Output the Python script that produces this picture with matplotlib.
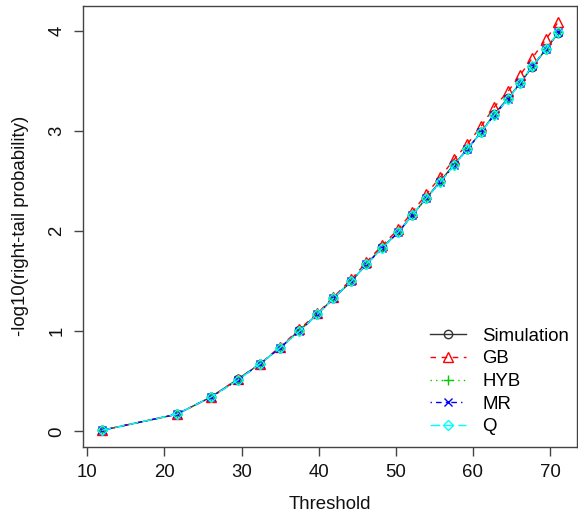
import matplotlib
matplotlib.use("Agg")
import matplotlib.pyplot as plt

plt.rcParams['font.family'] = ['Liberation Sans', 'DejaVu Sans']

# thresholds and -log10(right-tail probability)
threshold = [11.85, 21.57, 25.98, 29.48, 32.33, 34.92, 37.51, 39.84, 41.92,
             44.25, 46.19, 48.26, 50.34, 52.15, 53.96, 55.78, 57.59, 59.28,
             61.09, 62.77, 64.59, 66.14, 67.70, 69.51, 71.07]
simulation = [0.01, 0.17, 0.34, 0.52, 0.67, 0.83, 1.01, 1.17, 1.33, 1.50,
              1.67, 1.84, 1.99, 2.16, 2.33, 2.50, 2.67, 2.82, 2.99, 3.17,
              3.33, 3.48, 3.64, 3.82, 3.98]
gb = [0.01, 0.17, 0.34, 0.52, 0.67, 0.84, 1.02, 1.18, 1.34, 1.52,
      1.69, 1.86, 2.02, 2.19, 2.37, 2.54, 2.72, 2.87, 3.05, 3.24,
      3.40, 3.56, 3.73, 3.92, 4.09]
hyb = [0.01, 0.17, 0.34, 0.51, 0.67, 0.83, 1.00, 1.17, 1.33, 1.50,
       1.67, 1.83, 1.99, 2.16, 2.33, 2.49, 2.66, 2.82, 2.99, 3.16,
       3.32, 3.48, 3.65, 3.82, 3.99]
mr = [0.01, 0.17, 0.34, 0.51, 0.67, 0.83, 1.00, 1.17, 1.33, 1.50,
      1.67, 1.83, 1.99, 2.16, 2.33, 2.49, 2.66, 2.82, 2.99, 3.16,
      3.32, 3.48, 3.65, 3.82, 3.99]
q = [0.01, 0.17, 0.34, 0.51, 0.67, 0.83, 1.00, 1.17, 1.33, 1.50,
     1.67, 1.83, 1.99, 2.16, 2.33, 2.49, 2.66, 2.82, 2.99, 3.16,
     3.32, 3.48, 3.65, 3.82, 3.99]

# name, values, colour, line style, marker, marker size
series = [
    ("Simulation", simulation, "#333333", "-", "o", 6),
    ("GB", gb, "#FF0000", (0, (4, 4)), "^", 7),
    ("HYB", hyb, "#00CD00", (0, (1, 3)), "+", 7.5),
    ("MR", mr, "#0000FF", (0, (1, 3, 4, 3)), "x", 6),
    ("Q", q, "#00FFFF", (0, (7, 3)), "D", 5.5),
]

fig = plt.figure(figsize=(5.78, 5.21), dpi=100)
ax = fig.add_axes([83.3 / 578, 1 - 446.7 / 521, 493.3 / 578, 441.2 / 521])

for name, vals, col, ls, mk, ms in series:
    ax.plot(threshold, vals, color=col, linestyle=ls, linewidth=1.0,
            marker=mk, markersize=ms, markerfacecolor="none",
            markeredgecolor=col, markeredgewidth=1.0, label=name)

ax.margins(x=0.04, y=0.04)
ax.set_xticks([10, 20, 30, 40, 50, 60, 70])
ax.set_yticks([0, 1, 2, 3, 4])

for s in ax.spines.values():
    s.set_color("#444444")
    s.set_linewidth(1.0)

ax.tick_params(axis='both', length=6.5, width=1.0, color="#444444",
               labelsize=13.4, labelcolor="#111111")
ax.tick_params(axis='x', pad=6.0)
ax.tick_params(axis='y', pad=12.5)
for lab in ax.get_yticklabels():
    lab.set_rotation(90)
    lab.set_ha('center')
    lab.set_va('center')

ax.set_xlabel("Threshold", fontsize=13.4, color="#111111", va='center')
ax.xaxis.set_label_coords(0.5, -0.132)
ax.set_ylabel("-log10(right-tail probability)", fontsize=13.4,
              color="#111111", va='center')
ax.yaxis.set_label_coords(-0.128, 0.5)

ax.legend(loc="lower right", bbox_to_anchor=(1.0, 0.009), frameon=False,
          fontsize=13.4, handlelength=1.9, handletextpad=0.9,
          labelspacing=0.3, borderaxespad=0.3, borderpad=0.1)

fig.savefig("out.png", dpi=100)
